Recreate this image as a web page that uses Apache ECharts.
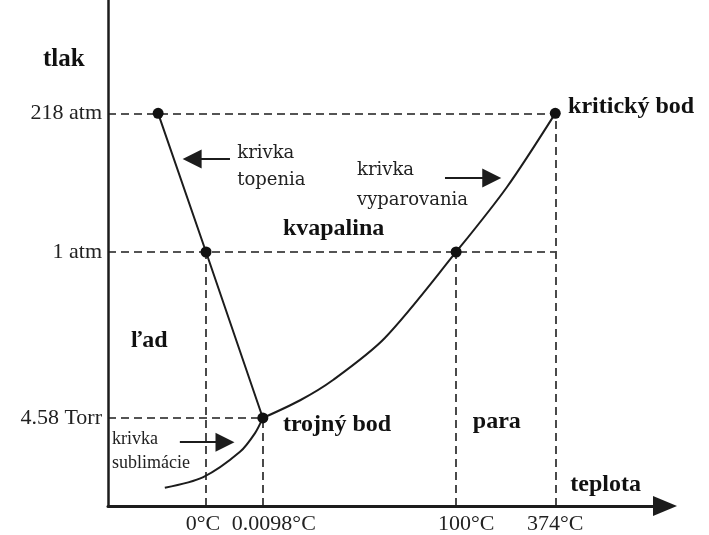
<!DOCTYPE html>
<html>
<head>
<meta charset="utf-8">
<script src="https://cdn.jsdelivr.net/npm/echarts@6/dist/echarts.min.js"></script>
<style>
  html, body { margin: 0; padding: 0; background: #fff; }
  #chart { width: 709px; height: 535px; }
</style>
</head>
<body>
<div id="chart"></div>
<script>
// Schematic phase diagram of water (not to scale): both axes run 0..100 in arbitrary units.

// Pressure levels on the vertical axis
const pressureTicks = [17.4, 50.2, 77.6];
const pressureLabels = ['4.58 Torr', '1 atm', '218 atm'];

// Temperature marks on the horizontal axis
const tempTicks = [17.6, 27.8, 62.5, 80.3];
const tempLabels = ['0°C', '0.0098°C', '100°C', '374°C'];

// Phase boundaries
const meltingCurve = [[9.0, 77.6], [17.6, 50.2], [27.8, 17.4]];
const vaporCurve = [[27.8, 17.4], [34.5, 20.9], [40.4, 24.9], [49.7, 33.2], [62.5, 50.2], [71.6, 63.0], [80.3, 77.6]];
const sublimationCurve = [[10.2, 3.6], [17.1, 5.7], [23.7, 10.7], [26.4, 14.4], [27.8, 17.4]];

// Marked states: top of melting curve, melting point, triple point, boiling point, critical point
const markedPoints = [[9.0, 77.6], [17.6, 50.2], [27.8, 17.4], [62.5, 50.2], [80.3, 77.6]];

// Phase names and point names
const phaseNames = ['ľad', 'kvapalina', 'para'];
const pointNames = ['trojný bod', 'kritický bod'];
const curveNames = ['krivka\ntopenia', 'krivka\nvyparovania', 'krivka\nsublimácie'];

const ink = '#1c1c1c';
const serif = '"Liberation Serif", "Times New Roman", serif';

const [p458, p1, p218] = pressureTicks;
const [t0, tTriple, t100, tCrit] = tempTicks;

// Dashed guides from each marked state to the axes
const guides = [
  [[0, p218], [tCrit, p218]],
  [[0, p1], [tCrit, p1]],
  [[0, p458], [tTriple, p458]],
  [[t0, 0], [t0, p1]],
  [[tTriple, 0], [tTriple, p458]],
  [[t100, 0], [t100, p1]],
  [[tCrit, 0], [tCrit, p218]]
];

// Pointer arrows for the curve captions
const pointers = [
  [[21.9, 68.6], [15.1, 68.6]],
  [[60.5, 64.8], [68.9, 64.8]],
  [[12.9, 12.6], [21.0, 12.6]]
];

const boldText = { fontFamily: serif, fontWeight: 'bold', fontSize: 24, color: '#111' };

const captions = [
  { value: [7.4, 32.6], name: phaseNames[0], align: 'center', style: boldText },
  { value: [40.5, 54.7], name: phaseNames[1], align: 'center', style: boldText },
  { value: [69.8, 16.6], name: phaseNames[2], align: 'center', style: boldText },
  { value: [31.4, 16.0], name: pointNames[0], align: 'left', style: boldText },
  { value: [82.6, 78.9], name: pointNames[1], align: 'left', style: boldText },
  { value: [83.0, 4.2], name: 'teplota', align: 'left', style: boldText },
  { value: [23.2, 67.1], name: curveNames[0], align: 'left',
    style: { fontFamily: '"DejaVu Serif", serif', fontSize: 18, lineHeight: 27, color: '#222' } },
  { value: [44.7, 63.4], name: curveNames[1], align: 'left',
    style: { fontFamily: '"DejaVu Serif", serif', fontSize: 18, lineHeight: 30, color: '#222' } },
  { value: [0.7, 10.9], name: curveNames[2], align: 'left',
    style: { fontFamily: serif, fontSize: 18, lineHeight: 24, color: '#222' } }
];

const chart = echarts.init(document.getElementById('chart'), null, { renderer: 'canvas' });

const curveSeries = (data, smooth) => ({
  type: 'line',
  data: data,
  symbol: 'none',
  smooth: smooth,
  silent: true,
  lineStyle: { color: ink, width: 2 },
  z: 3
});

chart.setOption({
  animation: false,
  backgroundColor: '#fff',
  grid: { left: 108, right: 44, top: 0, bottom: 29 },
  xAxis: {
    type: 'value',
    min: 0,
    max: 100,
    splitLine: { show: false },
    axisTick: { show: false },
    axisLine: {
      onZero: false,
      symbol: ['none', 'triangle'],
      symbolSize: [20, 24],
      lineStyle: { color: ink, width: 3 }
    },
    axisLabel: {
      customValues: tempTicks,
      margin: 7,
      fontFamily: serif,
      fontSize: 22,
      color: '#222',
      formatter: (v) => {
        const i = tempTicks.indexOf(v);
        return '{s' + i + '|' + tempLabels[i] + '}';
      },
      rich: {
        s0: { padding: [0, 6, 0, 0] },
        s1: { padding: [0, 0, 0, 22] },
        s2: { padding: [0, 0, 0, 20] },
        s3: {}
      }
    }
  },
  yAxis: {
    type: 'value',
    min: 0,
    max: 100,
    splitLine: { show: false },
    axisTick: { show: false },
    axisLine: { onZero: false, lineStyle: { color: ink, width: 2.5 } },
    axisLabel: {
      customValues: pressureTicks,
      margin: 6,
      fontFamily: serif,
      fontSize: 22,
      color: '#222',
      formatter: (v) => pressureLabels[pressureTicks.indexOf(v)]
    }
  },
  graphic: [{
    type: 'text',
    left: 43,
    top: 47,
    style: { text: 'tlak', font: 'bold 25px ' + serif, fill: '#111' }
  }],
  series: [
    {
      type: 'lines',
      coordinateSystem: 'cartesian2d',
      silent: true,
      lineStyle: { color: ink, width: 1.6, type: [8, 5], opacity: 1 },
      data: guides.map((c) => ({ coords: c })),
      z: 2
    },
    curveSeries(meltingCurve, false),
    curveSeries(vaporCurve, 0.3),
    curveSeries(sublimationCurve, 0.3),
    {
      type: 'scatter',
      data: markedPoints,
      symbolSize: 11,
      silent: true,
      itemStyle: { color: '#111', opacity: 1 },
      z: 4
    },
    {
      type: 'lines',
      coordinateSystem: 'cartesian2d',
      silent: true,
      symbol: ['none', 'triangle'],
      symbolSize: 19,
      lineStyle: { color: ink, width: 2, opacity: 1 },
      data: pointers.map((c) => ({ coords: c })),
      z: 4
    },
    {
      type: 'scatter',
      silent: true,
      clip: false,
      symbolSize: 1,
      itemStyle: { color: 'transparent', opacity: 1 },
      data: captions.map((c) => ({
        value: c.value,
        name: c.name,
        label: Object.assign({
          show: true,
          position: 'inside',
          align: c.align,
          verticalAlign: 'middle',
          formatter: '{b}'
        }, c.style)
      })),
      z: 5
    }
  ]
});
</script>
</body>
</html>
